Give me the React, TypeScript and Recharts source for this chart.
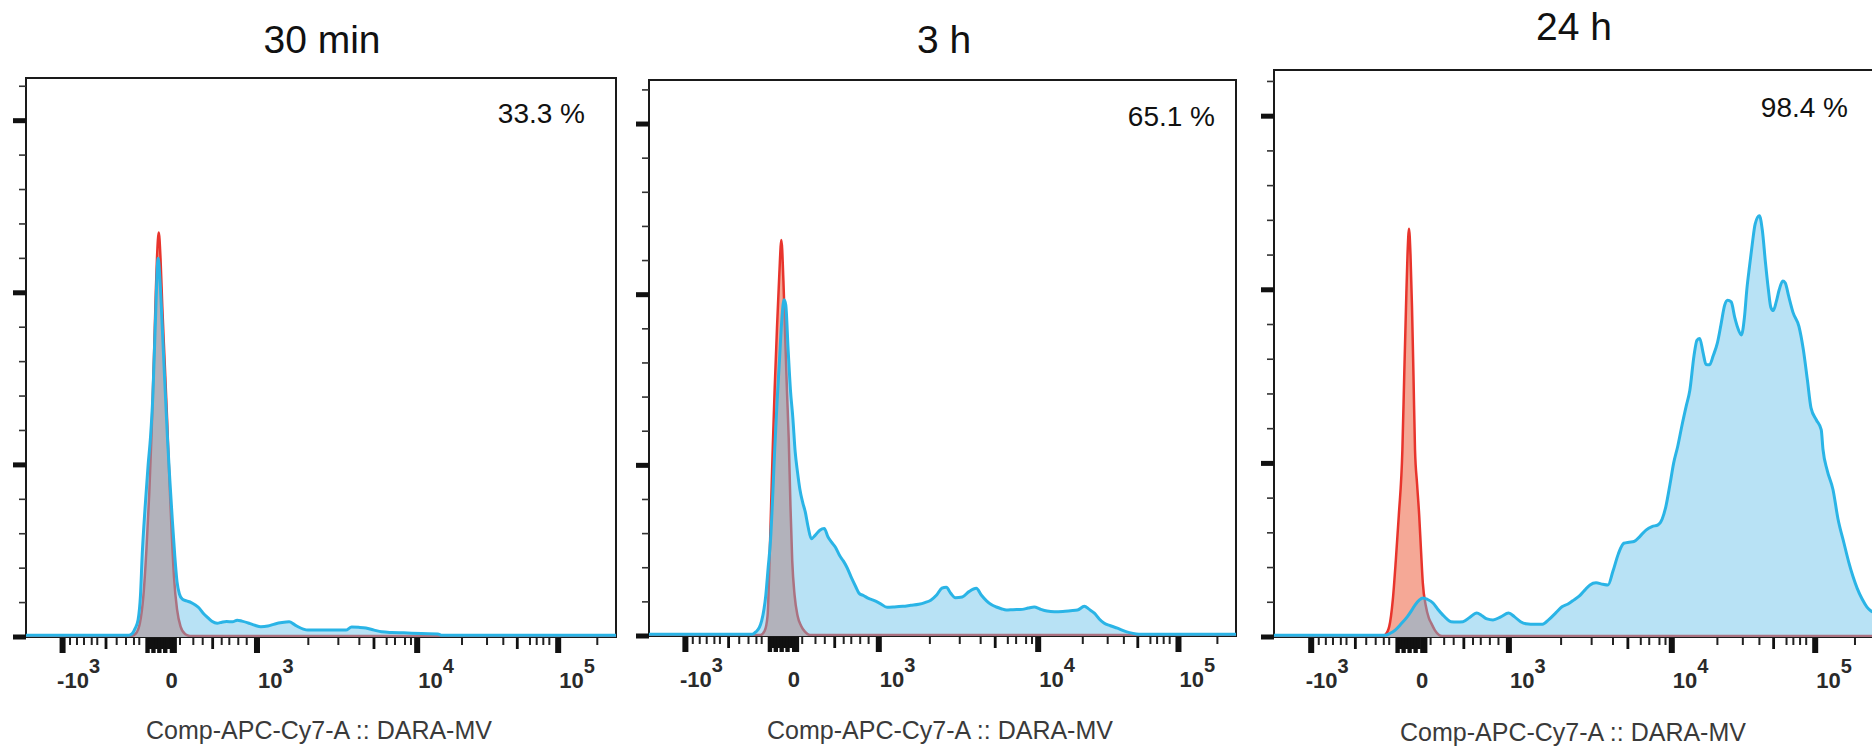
import { Area, AreaChart, ReferenceArea, XAxis, YAxis } from "recharts";

// x values are display channels (0..1000 across the plot), y values are event counts
const p1Red: [number, number][] = [
  [0, 0.3], [178, 0.3], [186, 1], [193, 4], [199, 12], [204, 25], [209, 42], [213, 60], [217, 82], [220, 100],
  [222, 110], [225, 117.5], [228, 110], [231, 96], [235, 80], [239, 64], [243, 46], [247, 30], [251, 17],
  [256, 8], [262, 3], [270, 0.8], [278, 0.3], [1000, 0.3],
];
const p1Blue: [number, number][] = [
  [0, 0.5], [174, 0.5], [180, 1], [185, 2.5], [190, 5], [194, 12], [197, 24], [202, 38], [207, 50], [211, 58],
  [215, 70], [219, 90], [224, 110], [227, 104], [231, 90], [235, 75], [240, 57], [244, 45], [248, 34], [252, 24],
  [256, 16], [260, 12.5], [265, 11], [272, 10.5], [280, 10], [287, 9.3], [293, 8.5], [300, 7], [307, 5.8],
  [315, 4.6], [324, 4], [332, 4.3], [340, 4.5], [350, 4.4], [358, 4.9], [366, 4.6], [378, 4], [388, 3.4],
  [398, 3], [410, 3.2], [422, 3.8], [434, 4.2], [446, 4.4], [455, 3.6], [462, 2.9], [470, 2.3], [478, 2],
  [500, 2], [520, 2], [542, 2], [552, 2.9], [564, 2.8], [576, 2.6], [590, 2], [603, 1.5], [620, 1.3],
  [640, 1.2], [670, 1], [698, 0.9], [705, 0.5], [1000, 0.5],
];

const p2Red: [number, number][] = [
  [0, 0.3], [190, 0.3], [197, 1.5], [202, 6], [205, 20], [208, 38], [211, 56], [214, 72], [218, 90], [222, 106],
  [225.5, 116], [229, 104], [232, 88], [235, 72], [238, 58], [241, 38], [244, 22], [248, 12], [253, 6],
  [259, 3], [266, 1.2], [274, 0.3], [1000, 0.3],
];
const p2Blue: [number, number][] = [
  [0, 0.5], [176, 0.5], [182, 1.2], [188, 2.5], [192, 4.5], [196, 8], [199, 12], [203, 20], [207, 28],
  [211, 42], [214, 54], [218, 68], [222, 80], [226, 92], [230, 98.5], [233, 97], [237, 84], [241, 72],
  [245, 64], [249, 54], [253, 48], [257, 43], [262, 39], [266, 36.5], [271, 32], [276.5, 28.5], [283, 29.5],
  [291, 31], [298.6, 31.5], [305, 29], [311, 27.5], [317.6, 26], [325, 23.5], [331, 22], [337.5, 20],
  [345, 17], [352, 14.5], [358, 12.5], [366, 11.8], [374, 11], [382, 10.5], [394, 9.5], [405.5, 8.4],
  [418, 8.5], [432.5, 8.7], [446, 9], [459.6, 9.3], [470, 9.8], [480, 10.5], [490, 12], [499, 14],
  [506.5, 14.3], [514, 12.5], [522, 11.2], [533.7, 11.4], [545, 13], [557.6, 14], [566, 12], [575, 10.3],
  [583, 9.2], [591.7, 8.5], [600, 8], [608.7, 7.6], [620, 7.7], [636, 7.8], [646, 8.2], [656.4, 8.5],
  [666, 7.9], [678, 7.3], [690.6, 7.1], [705, 7.2], [718, 7.4], [730, 7.6], [741.6, 8.7], [750, 7.8],
  [758.7, 6.7], [767, 5], [775, 3.8], [786, 3], [798, 2.3], [808, 1.6], [818.6, 1], [830, 0.6], [839, 0.5],
  [1000, 0.5],
];

const p3Red: [number, number][] = [
  [0, 0.3], [180, 0.3], [185, 0.6], [192, 3], [198, 10.7], [203, 22], [208, 35], [214, 54], [217, 75],
  [220, 95], [222.5, 110], [225, 117.6], [227.5, 110], [230, 95], [232.5, 75], [235, 54], [238.5, 44],
  [242, 35], [245, 25], [248, 15.6], [253, 9], [258, 5.5], [262, 4], [268, 2], [275, 0.6], [280, 0.3],
  [1000, 0.3],
];
const p3Blue: [number, number][] = [
  [0, 0.5], [185, 0.5], [193, 1], [202, 2], [212, 3.8], [222, 5.8], [230, 7.8], [235, 9.2], [242, 10.6],
  [248.5, 11.2], [256, 10.8], [265, 9.8], [273, 8], [281.6, 6.3], [288, 5.2], [295, 4.4], [305, 4.3],
  [315, 4.4], [326, 5.6], [338, 6.9], [346, 6.2], [355, 5.2], [365, 4.9], [378, 5.8], [391, 6.9], [401, 5.8],
  [411, 4.4], [420, 3.8], [427.7, 3.7], [447.5, 3.7], [458, 5], [470, 7], [480, 8.7], [490, 9.5], [500, 10.7],
  [510, 12], [518, 13.5], [526.7, 15], [536.7, 15.6], [548, 15.2], [556.7, 15], [565, 19], [574, 24],
  [583, 27], [592, 27.3], [600, 27.5], [610, 29], [620, 30.8], [630, 31.8], [640, 32.3], [647, 34],
  [653, 37.5], [660, 44], [666, 50], [673, 55], [680, 61], [687, 66.5], [693, 71], [700, 81], [705, 85.5],
  [709.5, 86], [715, 82], [720, 78.5], [726, 78.4], [732, 81], [739, 84.7], [745, 90], [751, 95.5],
  [756, 97], [762, 96.5], [768, 92], [773, 89], [779, 87], [784, 92], [788, 100], [792.5, 106.7], [797, 113],
  [802, 119], [809, 121.3], [814, 117], [819, 108], [824, 100], [828, 95], [832, 94], [837, 96.5], [842, 100],
  [848, 102.5], [852, 102], [858, 98], [865, 93.5], [875, 89.4], [882, 83], [889, 74], [895, 66], [904, 62.5],
  [912, 59.7], [915, 54], [922, 48], [931.7, 42.4], [940, 34], [950, 27], [958, 21.5], [965, 17.4], [972, 14],
  [980, 11], [988, 8.7], [995, 7.5], [1000, 7],
];

// biexponential axis ticks (channel positions)
const majorTickCh = [62, 391.5, 663, 902];
const majorTickSign = [-1, 1, 1, 1];
const majorTickExp = ["3", "3", "4", "5"];
const zeroTickCh = 247;
const clusterTickCh = [206, 211, 216, 221, 226, 231, 236, 241, 252];
const longTickCh = [135.6, 316.4, 589.8, 832.7];
const minorTickCh = [
  74.6, 86.4, 98.3, 111.4, 120.8, 153.7, 169.5, 183, 192,
  261, 283.6, 299.5, 331.7, 344.6, 359.8, 374.1,
  478.5, 529.4, 565, 611.3, 625.4, 642.4, 652.5,
  739, 781.4, 809, 854.2, 865.6, 876.8, 887, 968.3,
];
const yTicks = [0, 10, 20, 30, 40, 50, 60, 70, 80, 90, 100, 110, 120, 130, 140, 150, 160];

const titles = ["30 min", "3 h", "24 h"];
const percents = ["33.3 %", "65.1 %", "98.4 %"];
const axisTitle = "Comp-APC-Cy7-A :: DARA-MV";

const W = 1872;
const H = 749;
const XH = 60;
const YW = 14;
const FONT = "'Liberation Sans', Arial, sans-serif";
const allXTicks = [...majorTickCh, zeroTickCh, ...clusterTickCh, ...longTickCh, ...minorTickCh].sort((a, b) => a - b);

function mergeSeries(red: [number, number][], blue: [number, number][]) {
  const map = new Map<number, { ch: number; red?: number; blue?: number }>();
  red.forEach(([ch, c]) => {
    const row = map.get(ch) ?? { ch };
    row.red = c;
    map.set(ch, row);
  });
  blue.forEach(([ch, c]) => {
    const row = map.get(ch) ?? { ch };
    row.blue = c;
    map.set(ch, row);
  });
  return [...map.values()].sort((a, b) => a.ch - b.ch);
}

function XTick(props: any) {
  const { x, y, payload } = props;
  const v = payload.value;
  const mi = majorTickCh.indexOf(v);
  if (mi >= 0) {
    const neg = majorTickSign[mi] < 0;
    return (
      <g>
        <rect x={x - 3} y={y + 1} width={6} height={15} fill="#111" />
        <text x={neg ? x - 5.5 : x + 1} y={y + 51} fontSize={22} fontWeight="bold" fill="#2a2a2a" fontFamily={FONT}>
          {neg ? "-10" : "10"}
          <tspan dy={-15} fontSize={20}>
            {majorTickExp[mi]}
          </tspan>
        </text>
      </g>
    );
  }
  if (v === zeroTickCh) {
    return (
      <g>
        <rect x={x - 2} y={y + 1} width={4} height={15} fill="#111" />
        <text x={x} y={y + 51} textAnchor="middle" fontSize={22} fontWeight="bold" fill="#2a2a2a" fontFamily={FONT}>
          0
        </text>
      </g>
    );
  }
  const ci = clusterTickCh.indexOf(v);
  if (ci >= 0) {
    return <rect x={x - 2.2} y={y + 1} width={4.4} height={ci % 2 === 0 ? 15 : 11} fill="#111" />;
  }
  if (longTickCh.includes(v)) {
    return <rect x={x - 1.4} y={y + 1} width={2.8} height={11} fill="#111" />;
  }
  return <rect x={x - 1} y={y + 1} width={2} height={7} fill="#222" />;
}

function YTick(props: any) {
  const { x, y, payload } = props;
  if (payload.value % 50 === 0) {
    return <rect x={x - 13} y={y - 2.5} width={13} height={5} fill="#111" />;
  }
  return <rect x={x - 7} y={y - 0.8} width={7} height={1.6} fill="#333" />;
}

type PanelProps = {
  red: [number, number][];
  blue: [number, number][];
  plotLeft: number;
  plotTop: number;
  plotW: number;
  baseline: number;
  yMax: number;
};

function Panel({ red, blue, plotLeft, plotTop, plotW, baseline, yMax }: PanelProps) {
  const data = mergeSeries(red, blue);
  const width = plotW + 26 + 4;
  return (
    <div style={{ position: "absolute", left: plotLeft - 26, top: 0, width, height: H }}>
      <AreaChart
        width={width}
        height={H}
        data={data}
        margin={{ top: plotTop, right: 4, bottom: H - baseline - XH, left: 26 - YW }}
      >
        <XAxis
          dataKey="ch"
          type="number"
          domain={[0, 1000]}
          ticks={allXTicks}
          interval={0}
          tick={(p: any) => <XTick {...p} />}
          tickSize={0}
          tickMargin={0}
          tickLine={false}
          axisLine={false}
          height={XH}
          allowDataOverflow
        />
        <YAxis
          type="number"
          domain={[0, yMax]}
          ticks={yTicks}
          interval={0}
          tick={(p: any) => <YTick {...p} />}
          tickSize={0}
          tickMargin={0}
          tickLine={false}
          axisLine={false}
          width={YW}
          allowDataOverflow
        />
        <ReferenceArea
          x1={0}
          x2={1000}
          y1={0}
          y2={yMax}
          fill="none"
          fillOpacity={0}
          stroke="#1a1a1a"
          strokeWidth={2}
          ifOverflow="visible"
        />
        <Area
          type="monotone"
          dataKey="red"
          stroke="#e8342c"
          strokeWidth={2.5}
          fill="#f5a896"
          fillOpacity={1}
          connectNulls
          dot={false}
          activeDot={false}
          isAnimationActive={false}
        />
        <Area
          type="monotone"
          dataKey="blue"
          stroke="#2ab4e6"
          strokeWidth={3}
          fill="#61bee9"
          fillOpacity={0.45}
          connectNulls
          dot={false}
          activeDot={false}
          isAnimationActive={false}
        />
      </AreaChart>
    </div>
  );
}

export default function App() {
  return (
    <div
      style={{
        position: "absolute",
        left: 0,
        top: 0,
        width: W,
        height: H,
        overflow: "hidden",
        background: "#fff",
        fontFamily: FONT,
      }}
    >
      <Panel red={p1Red} blue={p1Blue} plotLeft={26} plotTop={78} plotW={590} baseline={637} yMax={162.4} />
      <Panel red={p2Red} blue={p2Blue} plotLeft={649} plotTop={80} plotW={587} baseline={636} yMax={162.9} />
      <Panel red={p3Red} blue={p3Blue} plotLeft={1274} plotTop={70} plotW={600} baseline={637} yMax={163.3} />
      <svg width={W} height={H} style={{ position: "absolute", left: 0, top: 0, pointerEvents: "none" }}>
        <g fontFamily={FONT} fill="#111">
          <text x={322} y={53} textAnchor="middle" fontSize={39}>{titles[0]}</text>
          <text x={944} y={53} textAnchor="middle" fontSize={39}>{titles[1]}</text>
          <text x={1574} y={40} textAnchor="middle" fontSize={39}>{titles[2]}</text>
          <text x={585} y={123} textAnchor="end" fontSize={28}>{percents[0]}</text>
          <text x={1215} y={126} textAnchor="end" fontSize={28}>{percents[1]}</text>
          <text x={1848} y={117} textAnchor="end" fontSize={28}>{percents[2]}</text>
        </g>
        <g fontFamily={FONT} fill="#3a3a3a" fontSize={25}>
          <text x={319} y={739} textAnchor="middle">{axisTitle}</text>
          <text x={940} y={739} textAnchor="middle">{axisTitle}</text>
          <text x={1573} y={741} textAnchor="middle">{axisTitle}</text>
        </g>
      </svg>
    </div>
  );
}
